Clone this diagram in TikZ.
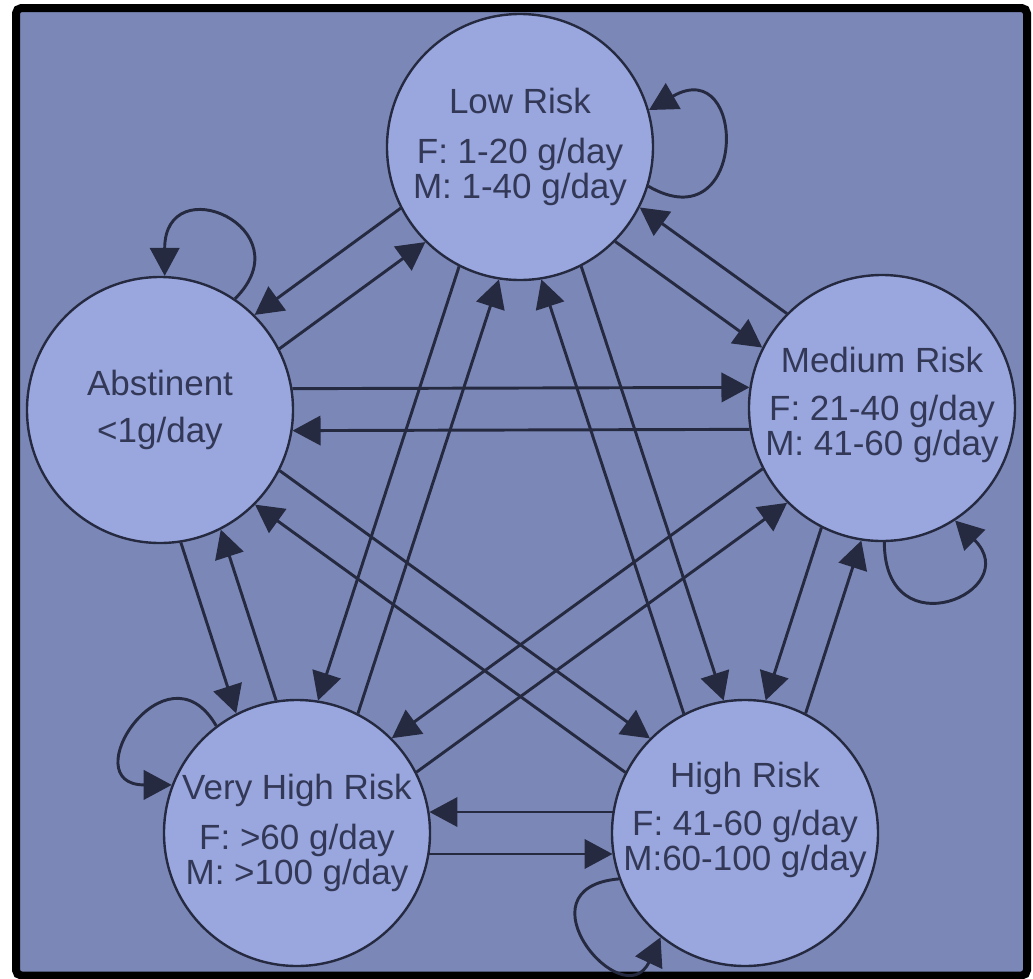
\documentclass[tikz,border=0pt]{standalone}
\usepackage{fontspec}
\setmainfont{Liberation Sans}
\usetikzlibrary{arrows.meta,calc}
\definecolor{bgblue}{RGB}{123,136,183}
\definecolor{nodeblue}{RGB}{153,167,222}
\definecolor{inkline}{RGB}{38,42,64}
\definecolor{inktext}{RGB}{50,56,86}
\newcommand\rr{100.6pt}
\newcommand\pairconn[4]{\draw[conn] ($(#1.center)!\rr!#3:(#2.center)$) -- ($(#2.center)!\rr!#4:(#1.center)$);}
\begin{document}
\begin{tikzpicture}[x=0.75pt,y=-0.75pt,
  state/.style={circle, draw=inkline, line width=1.8pt, fill=nodeblue, minimum size=199.5pt, inner sep=0pt},
  statetext/.style={text=inktext, font=\fontsize{26.25}{26.25}\selectfont, align=center, inner sep=0pt},
  conn/.style={draw=inkline, line width=2.2pt, -{Triangle[length=21pt,width=22pt]}},
  frame/.style={draw=black, line width=6pt, rounded corners=4pt, fill=bgblue}]
\useasboundingbox (0,0) rectangle (1033,979);
\path[frame] (16,8) rectangle (1027,975.5);
% states
\node[state] (low)  at (520,147) {};
\node[state] (abs)  at (160,410) {};
\node[state] (med)  at (882,408) {};
\node[state] (vh)   at (297,833) {};
\node[state] (high) at (745,833) {};
\node[statetext] (lowtxt)  at (low)  {Low Risk\\[11pt]F: 1-20 g/day\\M: 1-40 g/day};
\node[statetext] (abstxt)  at (abs)  {Abstinent\\[9pt]<1g/day};
\node[statetext] (medtxt)  at ($(med)+(0,-3)$)  {Medium Risk\\[10pt]F: 21-40 g/day\\M: 41-60 g/day};
\node[statetext] (vhtxt)   at (vh)   {Very High Risk\\[11pt]F: >60 g/day\\M: >100 g/day};
\node[statetext] (hightxt) at ($(high)+(0,-13)$) {High Risk\\[10pt]F: 41-60 g/day\\M:60-100 g/day};
% transitions between states
\pairconn{low}{abs}{-9}{9}
\pairconn{abs}{low}{-9}{9}
\pairconn{low}{med}{-9}{9}
\pairconn{med}{low}{-9}{9}
\pairconn{abs}{med}{9}{-9}
\pairconn{med}{abs}{9}{-9}
\pairconn{low}{vh}{-9}{9}
\pairconn{vh}{low}{-9}{9}
\pairconn{low}{high}{9}{-9}
\pairconn{high}{low}{9}{-9}
\pairconn{abs}{vh}{-9}{9}
\pairconn{vh}{abs}{-9}{9}
\pairconn{abs}{high}{9}{-9}
\pairconn{high}{abs}{9}{-9}
\pairconn{med}{vh}{-9}{9}
\pairconn{vh}{med}{-9}{9}
\pairconn{med}{high}{-9}{9}
\pairconn{high}{med}{-9}{9}
\pairconn{vh}{high}{-9}{9}
\pairconn{high}{vh}{-9}{9}
% self loops
\draw[conn] (low.-17) .. controls +(-30:86pt) and +(30:86pt) .. (low.16);
\draw[conn] (abs.56) .. controls +(45:75pt) and +(90:82pt) .. (abs.88);
\draw[conn] (med.271) .. controls +(270:82pt) and +(315:75pt) .. (med.303);
\draw[conn] (vh.127) .. controls +(120:75pt) and +(180:75pt) .. (vh.159);
\draw[conn] (high.200) .. controls +(185:78pt) and +(245:66pt) .. (high.231);
\end{tikzpicture}
\end{document}
